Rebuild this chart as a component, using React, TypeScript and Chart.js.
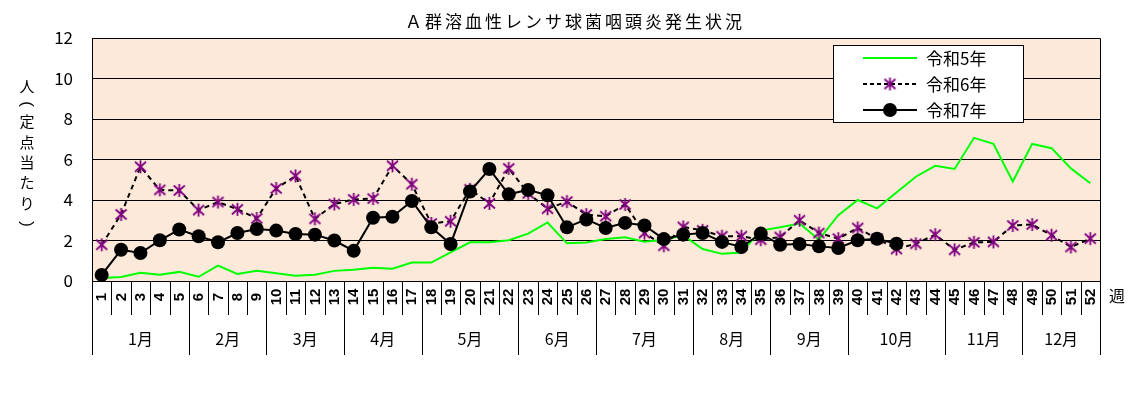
import React, { useEffect, useRef } from "react";
import { Chart, registerables } from "chart.js";

Chart.register(...registerables);

const weekLabels = [
  "1","2","3","4","5","6","7","8","9","10","11","12","13","14","15","16","17","18","19","20","21","22","23","24","25","26",
  "27","28","29","30","31","32","33","34","35","36","37","38","39","40","41","42","43","44","45","46","47","48","49","50","51","52",
];

const monthNames = ["1月","2月","3月","4月","5月","6月","7月","8月","9月","10月","11月","12月"];
const monthWeeks = [5, 4, 4, 4, 5, 4, 5, 4, 4, 5, 4, 4];

const yTicks = [0, 2, 4, 6, 8, 10, 12];

const seriesNames = ["令和5年", "令和6年", "令和7年"];

const r5 = [
  0.15, 0.2, 0.41, 0.31, 0.45, 0.21, 0.76, 0.35, 0.5, 0.38, 0.26, 0.31, 0.5, 0.56, 0.66, 0.61, 0.91, 0.91, 1.41, 1.91,
  1.91, 2.01, 2.34, 2.89, 1.86, 1.9, 2.07, 2.16, 1.94, 2.04, 2.25, 1.58, 1.34, 1.41, 2.49, 2.65, 2.84, 2.04, 3.25, 4.0,
  3.59, 4.37, 5.15, 5.69, 5.53, 7.07, 6.77, 4.91, 6.77, 6.56, 5.56, 4.83,
];

const r6 = [
  1.79, 3.29, 5.64, 4.5, 4.47, 3.5, 3.9, 3.54, 3.09, 4.57, 5.19, 3.07, 3.8, 4.03, 4.07, 5.69, 4.78, 2.84, 2.95, 4.53,
  3.83, 5.56, 4.33, 3.57, 3.92, 3.28, 3.2, 3.78, 2.37, 1.74, 2.67, 2.5, 2.21, 2.21, 2.04, 2.17, 3.0, 2.37, 2.09, 2.62,
  2.09, 1.58, 1.84, 2.29, 1.54, 1.91, 1.93, 2.74, 2.79, 2.26, 1.68, 2.09,
];

const r7 = [
  0.3, 1.54, 1.38, 2.01, 2.54, 2.21, 1.91, 2.37, 2.57, 2.49, 2.32, 2.29, 2.0, 1.49, 3.12, 3.17, 3.95, 2.65, 1.83, 4.42,
  5.53, 4.28, 4.5, 4.23, 2.65, 3.04, 2.62, 2.87, 2.74, 2.07, 2.29, 2.37, 1.93, 1.68, 2.34, 1.79, 1.83, 1.71, 1.63, 2.01,
  2.09, 1.84, null, null, null, null, null, null, null, null, null, null,
];

const PEACH = "#fde9d9";
const GREEN = "#00ff00";
const PURPLE = "#800080";
const JP = '"Noto Sans CJK JP", "Noto Sans", sans-serif';

function makeStar(): HTMLCanvasElement {
  const c = document.createElement("canvas");
  c.width = 15;
  c.height = 15;
  const ctx = c.getContext("2d")!;
  ctx.strokeStyle = PURPLE;
  ctx.lineWidth = 1.8;
  ctx.beginPath();
  ctx.moveTo(2, 2.5);
  ctx.lineTo(13, 12.5);
  ctx.moveTo(13, 2.5);
  ctx.lineTo(2, 12.5);
  ctx.moveTo(7.5, 1);
  ctx.lineTo(7.5, 14);
  ctx.stroke();
  return c;
}

export default function App() {
  const ref = useRef<HTMLCanvasElement>(null);

  useEffect(() => {
    const star = makeStar();

    const decor = {
      id: "decor",
      beforeDraw(chart: any) {
        const { ctx, chartArea: a } = chart;
        ctx.save();
        ctx.fillStyle = PEACH;
        ctx.fillRect(a.left, a.top, a.right - a.left, a.bottom - a.top);
        ctx.restore();
      },
      afterDraw(chart: any) {
        const { ctx, chartArea: a } = chart;
        const xs = chart.scales.x;
        const n = weekLabels.length;
        const step = (xs.right - xs.left) / n;
        const L = Math.round(a.left) + 0.5;
        const R = Math.round(a.right) + 0.5;
        const T = Math.round(a.top) + 0.5;
        const B = Math.round(a.bottom) + 0.5;
        ctx.save();

        // title
        ctx.fillStyle = "#000";
        ctx.font = `17px ${JP}`;
        ctx.textAlign = "center";
        ctx.textBaseline = "middle";
        (ctx as any).letterSpacing = "3px";
        ctx.fillText("Ａ群溶血性レンサ球菌咽頭炎発生状況", 567, 14);
        (ctx as any).letterSpacing = "0px";

        // y title (vertical)
        const yChars = ["人", "(", "定", "点", "当", "た", "り", ")"];
        const yPos = [78, 96, 113, 134, 154, 174, 195, 216];
        yChars.forEach((ch, i) => {
          if (ch === "(" || ch === ")") {
            ctx.save();
            ctx.font = '17px "Liberation Sans", Arial, sans-serif';
            ctx.translate(19, yPos[i]);
            ctx.rotate(Math.PI / 2);
            ctx.fillText(ch, 0, 0);
            ctx.restore();
          } else {
            ctx.font = `15px ${JP}`;
            ctx.fillText(ch, 19, yPos[i]);
          }
        });

        // border of plot
        ctx.strokeStyle = "#000";
        ctx.lineWidth = 1;
        ctx.beginPath();
        ctx.moveTo(L, T);
        ctx.lineTo(R, T);
        ctx.moveTo(L, T);
        ctx.lineTo(L, 347);
        ctx.moveTo(R, T);
        ctx.lineTo(R, 347);
        ctx.moveTo(L, B);
        ctx.lineTo(R, B);
        ctx.stroke();

        // week separators
        ctx.beginPath();
        for (let i = 1; i < n; i++) {
          const x = Math.round(xs.left + step * i) + 0.5;
          ctx.moveTo(x, B);
          ctx.lineTo(x, 307);
        }
        ctx.stroke();

        // week labels
        ctx.font = 'bold 15px "Liberation Sans", Arial, sans-serif';
        ctx.textAlign = "center";
        ctx.textBaseline = "middle";
        weekLabels.forEach((lab, i) => {
          const x = xs.getPixelForValue(i);
          ctx.save();
          ctx.translate(x + 0.5, 289);
          ctx.rotate(-Math.PI / 2);
          ctx.fillText(lab, 0, 0);
          ctx.restore();
        });

        // months
        ctx.font = `16px ${JP}`;
        let start = 0;
        ctx.beginPath();
        monthWeeks.forEach((w, mi) => {
          const x0 = xs.left + step * start;
          const x1 = xs.left + step * (start + w);
          if (mi > 0) {
            const xl = Math.round(x0) + 0.5;
            ctx.moveTo(xl, B);
            ctx.lineTo(xl, 347);
          }
          ctx.fillText(monthNames[mi], (x0 + x1) / 2, 331);
          start += w;
        });
        ctx.stroke();

        ctx.font = `16px ${JP}`;
        ctx.fillText("週", 1109, 288);

        // legend
        const lx = 825.5, ly = 37.5, lw = 190, lh = 77;
        ctx.fillStyle = "#fff";
        ctx.fillRect(lx, ly, lw, lh);
        ctx.strokeStyle = "#000";
        ctx.lineWidth = 1;
        ctx.strokeRect(lx, ly, lw, lh);
        const rows = [50, 76, 102];
        const sx0 = 855, sx1 = 909, sm = 882;
        ctx.strokeStyle = GREEN;
        ctx.lineWidth = 2;
        ctx.beginPath();
        ctx.moveTo(sx0, rows[0]);
        ctx.lineTo(sx1, rows[0]);
        ctx.stroke();
        ctx.strokeStyle = "#000";
        ctx.setLineDash([4, 3]);
        ctx.beginPath();
        ctx.moveTo(sx0, rows[1]);
        ctx.lineTo(sx1, rows[1]);
        ctx.stroke();
        ctx.setLineDash([]);
        ctx.drawImage(star, sm - 7.5, rows[1] - 7.5);
        ctx.beginPath();
        ctx.moveTo(sx0, rows[2]);
        ctx.lineTo(sx1, rows[2]);
        ctx.stroke();
        ctx.fillStyle = "#000";
        ctx.beginPath();
        ctx.arc(sm, rows[2], 7, 0, Math.PI * 2);
        ctx.fill();
        ctx.font = `17px ${JP}`;
        ctx.textAlign = "left";
        ctx.fillStyle = "#000";
        seriesNames.forEach((s, i) => ctx.fillText(s, 918, rows[i] + 1));

        ctx.restore();
      },
    };

    const chart = new Chart(ref.current!, {
      type: "line",
      data: {
        labels: weekLabels,
        datasets: [
          {
            label: seriesNames[0],
            data: r5,
            borderColor: GREEN,
            borderWidth: 2,
            pointRadius: 0,
            tension: 0,
            order: 2,
          },
          {
            label: seriesNames[1],
            data: r6,
            borderColor: "#000",
            borderWidth: 2,
            borderDash: [5, 4],
            pointStyle: star as any,
            pointRadius: 7,
            tension: 0,
            order: 1,
          },
          {
            label: seriesNames[2],
            data: r7 as any,
            borderColor: "#000",
            borderWidth: 2,
            pointStyle: "circle",
            pointRadius: 7,
            pointBackgroundColor: "#000",
            pointBorderColor: "#000",
            pointBorderWidth: 0,
            tension: 0,
            spanGaps: false,
            order: 0,
          },
        ],
      },
      options: {
        animation: false,
        responsive: false,
        layout: { padding: { top: 30, right: 26, left: 0, bottom: 0 } },
        plugins: {
          legend: { display: false },
          title: { display: false },
          tooltip: { enabled: false },
        },
        scales: {
          x: {
            type: "category",
            offset: true,
            grid: { display: false },
            border: { display: false },
            ticks: { display: false },
            afterFit: (s: any) => {
              s.height = 107;
            },
          },
          y: {
            min: 0,
            max: 12,
            afterBuildTicks: (s: any) => {
              s.ticks = yTicks.map((v) => ({ value: v }));
            },
            grid: { color: "#000", lineWidth: 1, drawTicks: false },
            border: { display: false },
            ticks: {
              padding: 19,
              color: "#000",
              font: { family: JP, size: 17 },
            },
            afterFit: (s: any) => {
              s.width = 84;
            },
          },
        },
      },
      plugins: [decor],
    });
    return () => chart.destroy();
  }, []);

  return (
    <div style={{ width: 1118, height: 380 }}>
      <canvas ref={ref} width={1118} height={380} />
    </div>
  );
}
